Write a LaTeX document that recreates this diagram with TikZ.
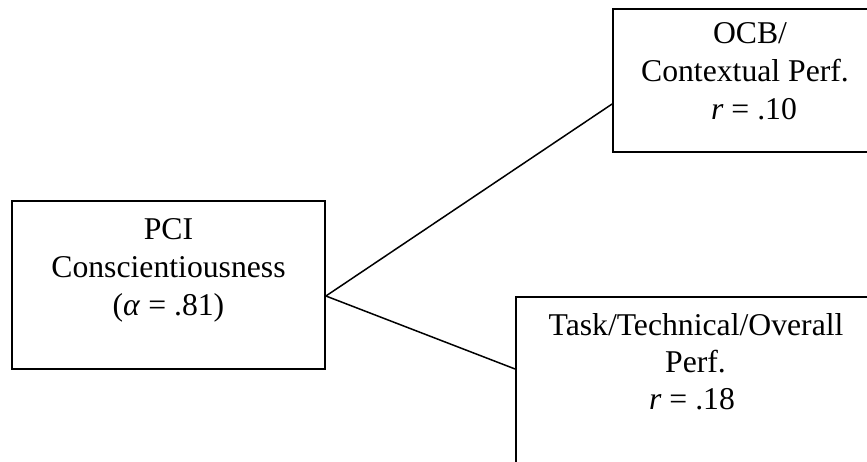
\documentclass[tikz,border=0pt]{standalone}
\usepackage{fontspec}
\setmainfont{Liberation Serif}
\begin{document}
\begin{tikzpicture}[x=1pt,y=-1pt,
  box/.style={draw=black,line width=1.8pt,rectangle,inner sep=0pt},
  txt/.style={anchor=base,inner sep=0pt,font=\fontsize{31.7}{37.5}\selectfont},
  conn/.style={draw=black,line width=1.5pt}]
\useasboundingbox (0,0) rectangle (867,462);
\clip (0,0) rectangle (867,462);
% boxes
\node[box,minimum width=313pt,minimum height=168pt] (pci) at (168.5,285) {};
\node[box,minimum width=274pt,minimum height=143pt] (ocb) at (750,80.5) {};
\node[box,minimum width=358pt,minimum height=203pt] (task) at (695,398.5) {};
% texts
\node[txt] (pciA) at (168.5,240) {PCI};
\node[txt] (pciB) at (168.5,277.5) {Conscientiousness};
\node[txt] (pciC) at (168.5,315) {(\textit{α} = .81)};
\node[txt] (ocbA) at (750,44) {OCB/};
\node[txt] (ocbB) at (745,82) {Contextual Perf.};
\node[txt] (ocbC) at (754,120) {\textit{r} = .10};
\node[txt] (taskA) at (696,335) {Task/Technical/Overall};
\node[txt] (taskB) at (695.5,372) {Perf.};
\node[txt] (taskC) at (692,409) {\textit{r} = .18};
% connectors
\coordinate (src) at ([yshift=-11pt]pci.east);
\draw[conn] (src) -- ([yshift=-23.5pt]ocb.west);
\draw[conn] (src) -- ([yshift=29.5pt]task.west);
\end{tikzpicture}
\end{document}
